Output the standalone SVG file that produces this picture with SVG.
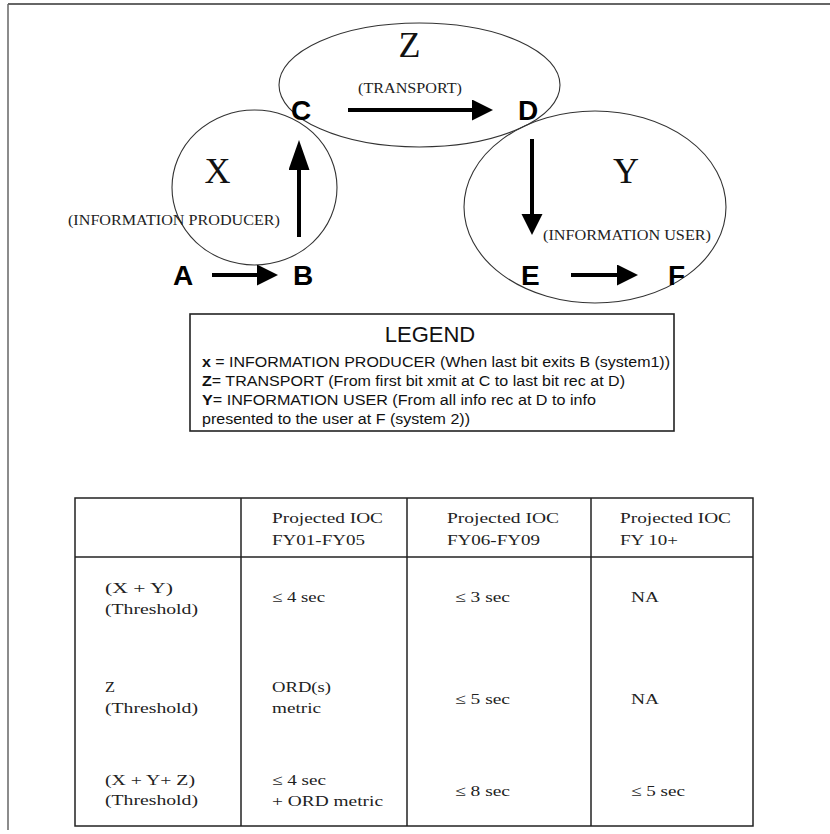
<svg xmlns="http://www.w3.org/2000/svg" width="830" height="834" viewBox="0 0 830 834">
<style>
.bg{fill:#ffffff}
.frame{stroke:#666;fill:none}
.zone{fill:none;stroke:#333;stroke-width:1.1}
.big{font-family:"Liberation Serif","Times New Roman",serif;font-size:36px;fill:#111;text-anchor:middle}
.paren{font-family:"Liberation Serif","Times New Roman",serif;font-size:14px;fill:#222}
.pt{font-family:"Liberation Sans",Arial,sans-serif;font-size:28px;font-weight:bold;fill:#000}
.conn{stroke:#000;stroke-width:4;fill:none}
.box{fill:none;stroke:#222;stroke-width:1.6}
.lg{font-family:"Liberation Sans",Arial,sans-serif;font-size:14px;fill:#111}
.lgh{font-family:"Liberation Sans",Arial,sans-serif;font-size:22px;fill:#111;text-anchor:middle}
.b{font-weight:bold}
.grid{stroke:#222;stroke-width:1.5;fill:none}
.tc{font-family:"Liberation Serif","Times New Roman",serif;font-size:15px;fill:#222}
</style>
<defs>
<marker id="head" markerUnits="userSpaceOnUse" markerWidth="24" markerHeight="24" refX="2" refY="10.5" orient="auto">
<path d="M0,0 L21,10.5 L0,21 Z" fill="#000"/>
</marker>
<marker id="headLong" markerUnits="userSpaceOnUse" markerWidth="32" markerHeight="24" refX="2" refY="10.5" orient="auto">
<path d="M0,0 L30,10.5 L0,21 Z" fill="#000"/>
</marker>
</defs>
<rect class="bg" x="0" y="0" width="830" height="834"/>
<line class="frame" x1="8" y1="4" x2="830" y2="4" stroke-width="2"/>
<line class="frame" x1="8" y1="4" x2="8" y2="830" stroke-width="1.5"/>

<g id="zoneX">
<ellipse class="zone" cx="254.5" cy="187.5" rx="82.5" ry="77.5"/>
<text class="big" x="217.5" y="183">X</text>
<text class="paren" x="68" y="225" textLength="212" lengthAdjust="spacingAndGlyphs">(INFORMATION PRODUCER)</text>
</g>
<g id="zoneZ">
<ellipse class="zone" cx="419.5" cy="85" rx="140.5" ry="62"/>
<text class="big" x="409.5" y="57">Z</text>
<text class="paren" x="358" y="93" textLength="104" lengthAdjust="spacingAndGlyphs">(TRANSPORT)</text>
</g>
<g id="zoneY">
<ellipse class="zone" cx="595" cy="207" rx="131" ry="96"/>
<text class="big" x="626" y="183">Y</text>
<text class="paren" x="543" y="240" textLength="168" lengthAdjust="spacingAndGlyphs">(INFORMATION USER)</text>
</g>

<g id="nodeA"><text class="pt" x="173" y="285">A</text></g>
<g id="nodeB"><text class="pt" x="293" y="285">B</text></g>
<g id="nodeC"><text class="pt" x="291" y="120">C</text></g>
<g id="nodeD"><text class="pt" x="518" y="120">D</text></g>
<g id="nodeE"><text class="pt" x="521" y="285">E</text></g>
<g id="nodeF"><text class="pt" x="668" y="285">F</text></g>

<g id="connectors">
<line class="conn" x1="212" y1="275" x2="259" y2="275" marker-end="url(#head)"/>
<line class="conn" x1="299" y1="237" x2="299" y2="168" marker-end="url(#headLong)"/>
<line class="conn" x1="348" y1="110" x2="474" y2="110" marker-end="url(#head)"/>
<line class="conn" x1="532" y1="139" x2="532" y2="216" marker-end="url(#head)"/>
<line class="conn" x1="571" y1="275" x2="619" y2="275" marker-end="url(#head)"/>
</g>

<g id="legend">
<rect class="box" x="190" y="314" width="484" height="117"/>
<text class="lgh" x="430" y="342">LEGEND</text>
<text class="lg" x="202" y="367" textLength="468" lengthAdjust="spacingAndGlyphs"><tspan class="b">x</tspan> = INFORMATION PRODUCER (When last bit exits B (system1))</text>
<text class="lg" x="202" y="386" textLength="423" lengthAdjust="spacingAndGlyphs"><tspan class="b">Z</tspan>= TRANSPORT (From first bit xmit at C to last bit rec at D)</text>
<text class="lg" x="202" y="405" textLength="394" lengthAdjust="spacingAndGlyphs"><tspan class="b">Y</tspan>= INFORMATION USER (From all info rec at D to info</text>
<text class="lg" x="202" y="424" textLength="268" lengthAdjust="spacingAndGlyphs">presented to the user at F (system 2))</text>
</g>

<g id="table">
<rect class="grid" x="75" y="498" width="678" height="328"/>
<line class="grid" x1="75" y1="557" x2="753" y2="557"/>
<line class="grid" x1="241" y1="498" x2="241" y2="826"/>
<line class="grid" x1="407" y1="498" x2="407" y2="826"/>
<line class="grid" x1="591" y1="498" x2="591" y2="826"/>

<text class="tc" x="272" y="523" textLength="111" lengthAdjust="spacingAndGlyphs">Projected IOC</text>
<text class="tc" x="272" y="545" textLength="93" lengthAdjust="spacingAndGlyphs">FY01-FY05</text>
<text class="tc" x="447" y="523" textLength="112" lengthAdjust="spacingAndGlyphs">Projected IOC</text>
<text class="tc" x="447" y="545" textLength="93" lengthAdjust="spacingAndGlyphs">FY06-FY09</text>
<text class="tc" x="620" y="523" textLength="111" lengthAdjust="spacingAndGlyphs">Projected IOC</text>
<text class="tc" x="620" y="545" textLength="58" lengthAdjust="spacingAndGlyphs">FY 10+</text>

<text class="tc" x="105" y="593" textLength="68" lengthAdjust="spacingAndGlyphs">(X + Y)</text>
<text class="tc" x="105" y="614" textLength="93" lengthAdjust="spacingAndGlyphs">(Threshold)</text>
<text class="tc" x="272" y="602" textLength="53" lengthAdjust="spacingAndGlyphs">≤ 4 sec</text>
<text class="tc" x="455" y="602" textLength="55" lengthAdjust="spacingAndGlyphs">≤ 3 sec</text>
<text class="tc" x="631" y="602" textLength="28" lengthAdjust="spacingAndGlyphs">NA</text>

<text class="tc" x="105" y="692" textLength="10" lengthAdjust="spacingAndGlyphs">Z</text>
<text class="tc" x="105" y="713" textLength="93" lengthAdjust="spacingAndGlyphs">(Threshold)</text>
<text class="tc" x="272" y="692" textLength="59" lengthAdjust="spacingAndGlyphs">ORD(s)</text>
<text class="tc" x="272" y="713" textLength="49" lengthAdjust="spacingAndGlyphs">metric</text>
<text class="tc" x="455" y="704" textLength="55" lengthAdjust="spacingAndGlyphs">≤ 5 sec</text>
<text class="tc" x="631" y="704" textLength="28" lengthAdjust="spacingAndGlyphs">NA</text>

<text class="tc" x="105" y="785" textLength="90" lengthAdjust="spacingAndGlyphs">(X + Y+ Z)</text>
<text class="tc" x="105" y="805" textLength="93" lengthAdjust="spacingAndGlyphs">(Threshold)</text>
<text class="tc" x="272" y="785" textLength="54" lengthAdjust="spacingAndGlyphs">≤ 4 sec</text>
<text class="tc" x="272" y="806" textLength="111" lengthAdjust="spacingAndGlyphs">+ ORD metric</text>
<text class="tc" x="455" y="796" textLength="55" lengthAdjust="spacingAndGlyphs">≤ 8 sec</text>
<text class="tc" x="631" y="796" textLength="54" lengthAdjust="spacingAndGlyphs">≤ 5 sec</text>
</g>
</svg>
